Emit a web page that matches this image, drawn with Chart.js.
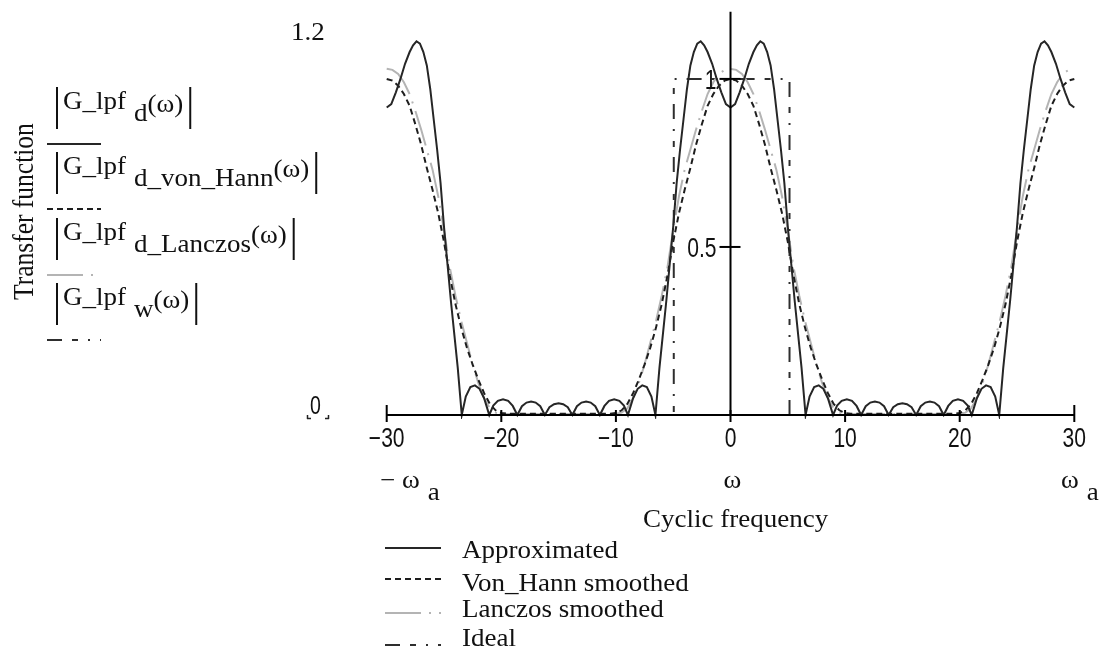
<!DOCTYPE html>
<html lang="en">
<head>
<meta charset="utf-8">
<title>Transfer function</title>
<script src="https://cdn.jsdelivr.net/npm/chart.js@4.4.1/dist/chart.umd.min.js"></script>
<style>
    html, body { margin: 0; padding: 0; background: #fff; }
    #wrap { width: 1099px; height: 660px; }
</style>
</head>
<body>
<div id="wrap"><canvas id="grafico" width="1099" height="660"></canvas></div>
<script>
// Eixo x: frequência cíclica, ticks e rótulos
const xTicks = [-30, -20, -10, 0, 10, 20, 30];
const yTicks = [0.5, 1];
const xLimits = [-30, 30];
const yLimits = [0, 1.2];

// Nomes das séries (legenda inferior) e índices dos rótulos do eixo y
const seriesNames = ['Approximated', 'Von_Hann smoothed', 'Lanczos smoothed', 'Ideal'];
const traceSubscripts = ['d', 'd_von_Hann', 'd_Lanczos', 'w'];

// |G_lpf_d(ω)| – aproximação
const approxOmega = [
    -30, -29.6, -29.2, -28.8, -28.4, -28.0, -27.7, -27.4, -27.1, -26.8,
    -26.5, -26.2, -25.9, -25.6, -25.3, -25.0, -24.7, -24.4, -24.1, -23.8,
    -23.45, -23.1, -22.7, -22.3, -21.9, -21.5, -21.05, -20.7, -20.3, -19.85,
    -19.4, -19.0, -18.6, -18.2, -17.8, -17.4, -17.0, -16.6, -16.2, -15.8,
    -15.4, -15.0, -14.6, -14.2, -13.8, -13.4, -13.0, -12.6, -12.2, -11.8,
    -11.4, -11.0, -10.6, -10.15, -9.7, -9.3, -8.95, -8.5, -8.1, -7.7,
    -7.3, -6.9, -6.55, -6.2, -5.9, -5.6, -5.3, -5.0, -4.7, -4.4,
    -4.1, -3.8, -3.5, -3.2, -2.9, -2.6, -2.3, -2.0, -1.6, -1.2,
    -0.8, -0.4, 0, 0.4, 0.8, 1.2, 1.6, 2.0, 2.3, 2.6,
    2.9, 3.2, 3.5, 3.8, 4.1, 4.4, 4.7, 5.0, 5.3, 5.6,
    5.9, 6.2, 6.55, 6.9, 7.3, 7.7, 8.1, 8.5, 8.95, 9.3,
    9.7, 10.15, 10.6, 11.0, 11.4, 11.8, 12.2, 12.6, 13.0, 13.4,
    13.8, 14.2, 14.6, 15.0, 15.4, 15.8, 16.2, 16.6, 17.0, 17.4,
    17.8, 18.2, 18.6, 19.0, 19.4, 19.85, 20.3, 20.7, 21.05, 21.5,
    21.9, 22.3, 22.7, 23.1, 23.45, 23.8, 24.1, 24.4, 24.7, 25.0,
    25.3, 25.6, 25.9, 26.2, 26.5, 26.8, 27.1, 27.4, 27.7, 28.0,
    28.4, 28.8, 29.2, 29.6, 30
];
const approxGain = [
    0.915, 0.925, 0.96, 1.0, 1.045, 1.08, 1.1, 1.112, 1.105, 1.08,
    1.04, 0.97, 0.88, 0.79, 0.69, 0.56, 0.45, 0.34, 0.24, 0.14,
    0, 0.055, 0.083, 0.088, 0.078, 0.05, 0, 0.028, 0.042, 0.047,
    0.042, 0.027, 0, 0.026, 0.037, 0.04, 0.037, 0.026, 0, 0.023,
    0.032, 0.035, 0.032, 0.023, 0, 0.026, 0.037, 0.04, 0.037, 0.026,
    0, 0.027, 0.042, 0.047, 0.042, 0.028, 0, 0.05, 0.078, 0.088,
    0.083, 0.055, 0, 0.14, 0.24, 0.34, 0.45, 0.56, 0.69, 0.79,
    0.88, 0.97, 1.04, 1.08, 1.105, 1.112, 1.1, 1.08, 1.045, 1.0,
    0.96, 0.925, 0.915, 0.925, 0.96, 1.0, 1.045, 1.08, 1.1, 1.112,
    1.105, 1.08, 1.04, 0.97, 0.88, 0.79, 0.69, 0.56, 0.45, 0.34,
    0.24, 0.14, 0, 0.055, 0.083, 0.088, 0.078, 0.05, 0, 0.028,
    0.042, 0.047, 0.042, 0.027, 0, 0.026, 0.037, 0.04, 0.037, 0.026,
    0, 0.023, 0.032, 0.035, 0.032, 0.023, 0, 0.026, 0.037, 0.04,
    0.037, 0.026, 0, 0.027, 0.042, 0.047, 0.042, 0.028, 0, 0.05,
    0.078, 0.088, 0.083, 0.055, 0, 0.14, 0.24, 0.34, 0.45, 0.56,
    0.69, 0.79, 0.88, 0.97, 1.04, 1.08, 1.105, 1.112, 1.1, 1.08,
    1.045, 1.0, 0.96, 0.925, 0.915
];

// Grade comum para as curvas suavizadas
const omegaGrid = [
    -30, -29.5, -29, -28.5, -28, -27.5, -27, -26.5, -26, -25.5,
    -25, -24.5, -24, -23.5, -23, -22.5, -22, -21.5, -21, -20.5,
    -20, -19.5, -19, -18.5, -18, -17.5, -17, -16.5, -16, -15.5,
    -15, -14.5, -14, -13.5, -13, -12.5, -12, -11.5, -11, -10.5,
    -10, -9.5, -9, -8.5, -8, -7.5, -7, -6.5, -6, -5.5,
    -5, -4.5, -4, -3.5, -3, -2.5, -2, -1.5, -1, -0.5,
    0, 0.5, 1, 1.5, 2, 2.5, 3, 3.5, 4, 4.5,
    5, 5.5, 6, 6.5, 7, 7.5, 8, 8.5, 9, 9.5,
    10, 10.5, 11, 11.5, 12, 12.5, 13, 13.5, 14, 14.5,
    15, 15.5, 16, 16.5, 17, 17.5, 18, 18.5, 19, 19.5,
    20, 20.5, 21, 21.5, 22, 22.5, 23, 23.5, 24, 24.5,
    25, 25.5, 26, 26.5, 27, 27.5, 28, 28.5, 29, 29.5,
    30
];

// |G_lpf_d_von_Hann(ω)|
const hannGain = [
    1.0, 0.995, 0.98, 0.955, 0.92, 0.865, 0.805, 0.735, 0.67, 0.6,
    0.515, 0.415, 0.33, 0.26, 0.2, 0.15, 0.105, 0.065, 0.033, 0.014,
    0.006, 0.004, 0.004, 0.004, 0.004, 0.004, 0.004, 0.004, 0.004, 0.004,
    0.004, 0.004, 0.004, 0.004, 0.004, 0.004, 0.004, 0.004, 0.004, 0.004,
    0.006, 0.014, 0.033, 0.065, 0.105, 0.15, 0.2, 0.26, 0.33, 0.415,
    0.515, 0.6, 0.67, 0.735, 0.805, 0.865, 0.92, 0.955, 0.98, 0.995,
    1.0, 0.995, 0.98, 0.955, 0.92, 0.865, 0.805, 0.735, 0.67, 0.6,
    0.515, 0.415, 0.33, 0.26, 0.2, 0.15, 0.105, 0.065, 0.033, 0.014,
    0.006, 0.004, 0.004, 0.004, 0.004, 0.004, 0.004, 0.004, 0.004, 0.004,
    0.004, 0.004, 0.004, 0.004, 0.004, 0.004, 0.004, 0.004, 0.004, 0.004,
    0.006, 0.014, 0.033, 0.065, 0.105, 0.15, 0.2, 0.26, 0.33, 0.415,
    0.515, 0.6, 0.67, 0.735, 0.805, 0.865, 0.92, 0.955, 0.98, 0.995,
    1.0
];

// |G_lpf_d_Lanczos(ω)|
const lanczosGain = [
    1.03, 1.027, 1.015, 0.99, 0.955, 0.905, 0.85, 0.79, 0.73, 0.65,
    0.55, 0.44, 0.355, 0.28, 0.215, 0.15, 0.095, 0.05, 0.02, 0.007,
    0.004, 0.003, 0.003, 0.003, 0.003, 0.003, 0.003, 0.003, 0.003, 0.003,
    0.003, 0.003, 0.003, 0.003, 0.003, 0.003, 0.003, 0.003, 0.003, 0.003,
    0.004, 0.007, 0.02, 0.05, 0.095, 0.15, 0.215, 0.28, 0.355, 0.44,
    0.55, 0.65, 0.73, 0.79, 0.85, 0.905, 0.955, 0.99, 1.015, 1.027,
    1.03, 1.027, 1.015, 0.99, 0.955, 0.905, 0.85, 0.79, 0.73, 0.65,
    0.55, 0.44, 0.355, 0.28, 0.215, 0.15, 0.095, 0.05, 0.02, 0.007,
    0.004, 0.003, 0.003, 0.003, 0.003, 0.003, 0.003, 0.003, 0.003, 0.003,
    0.003, 0.003, 0.003, 0.003, 0.003, 0.003, 0.003, 0.003, 0.003, 0.003,
    0.004, 0.007, 0.02, 0.05, 0.095, 0.15, 0.215, 0.28, 0.355, 0.44,
    0.55, 0.65, 0.73, 0.79, 0.85, 0.905, 0.955, 0.99, 1.015, 1.027,
    1.03
];

// |G_lpf_w(ω)| – filtro ideal
const idealOmega = [-30, -4.95, -4.95, 5.15, 5.15, 30];
const idealGain = [0, 0, 1, 1, 0, 0];

const SERIF = '"Liberation Serif", "Times New Roman", serif';
const SANS = '"Liberation Sans", Arial, sans-serif';
const SERIF_SIZE = 25;
const SERIF_SX = 1.08;
const SANS_SX = 0.78;

function pares(xs, ys) {
    return xs.map((x, i) => ({ x: x, y: ys[i] }));
}

// Texto com escala horizontal (a figura original é esticada na horizontal)
function texto(ctx, str, x, y, size, family, sx, align) {
    ctx.save();
    ctx.font = size + 'px ' + family;
    ctx.textAlign = 'left';
    ctx.textBaseline = 'alphabetic';
    const w = ctx.measureText(str).width * sx;
    let x0 = x;
    if (align === 'center') x0 = x - w / 2;
    if (align === 'right') x0 = x - w;
    ctx.translate(x0, y);
    ctx.scale(sx, 1);
    ctx.fillText(str, 0, 0);
    ctx.restore();
    return x0 + w;
}

function linha(ctx, x1, y1, x2, y2, cor, largura, dash) {
    ctx.save();
    ctx.strokeStyle = cor;
    ctx.lineWidth = largura;
    ctx.setLineDash(dash || []);
    ctx.beginPath();
    ctx.moveTo(x1, y1);
    ctx.lineTo(x2, y2);
    ctx.stroke();
    ctx.restore();
}

// Eixos cruzados, rótulos e legendas no estilo Mathcad
const mathcadFrame = {
    id: 'mathcadFrame',
    afterDatasetsDraw(chart) {
        const ctx = chart.ctx;
        const xs = chart.scales.x;
        const ys = chart.scales.y;
        const y0 = ys.getPixelForValue(0);
        const x0 = xs.getPixelForValue(0);
        const xl = xs.getPixelForValue(xLimits[0]);
        const xr = xs.getPixelForValue(xLimits[1]);
        const yt = ys.getPixelForValue(yLimits[1]);
        ctx.fillStyle = '#111';

        // eixo horizontal e vertical
        linha(ctx, xl, y0, xr, y0, '#000', 2);
        linha(ctx, x0, y0, x0, yt, '#000', 2);

        xTicks.forEach(v => {
            const px = xs.getPixelForValue(v);
            const ponta = (v === xLimits[0] || v === xLimits[1]);
            linha(ctx, px, y0 - (ponta ? 10 : 5), px, y0 + 7, '#000', 2);
            const lbl = v < 0 ? '\u2212' + Math.abs(v) : String(v);
            texto(ctx, lbl, px, y0 + 32, 27, SANS, SANS_SX, 'center');
        });

        yTicks.forEach(v => {
            const py = ys.getPixelForValue(v);
            linha(ctx, x0 - 11, py, x0 + 10, py, '#000', 2);
            texto(ctx, String(v), x0 - 14, py + 10, 27, SANS, SANS_SX, 'right');
        });

        // limites do eixo y
        texto(ctx, '1.2', 291, 40, SERIF_SIZE, SERIF, SERIF_SX, 'left');
        texto(ctx, '0', 310, 414, 25, SANS, SANS_SX, 'left');
        linha(ctx, 307.5, 415, 307.5, 419, '#222', 1.5);
        linha(ctx, 307, 418.5, 311, 418.5, '#222', 1.5);
        linha(ctx, 328.5, 415, 328.5, 419, '#222', 1.5);
        linha(ctx, 325, 418.5, 329, 418.5, '#222', 1.5);

        // título do eixo y (vertical)
        ctx.save();
        ctx.font = '25.5px ' + SERIF;
        ctx.translate(33, 300);
        ctx.scale(1.13, 1);
        ctx.rotate(-Math.PI / 2);
        ctx.fillText('Transfer function', 0, 0);
        ctx.restore();

        // expressões dos traços |G_lpf_x(ω)| com amostras de linha
        const topos = [87, 152, 218, 283];
        traceSubscripts.forEach((sub, i) => {
            const top = topos[i];
            const bottom = top + 42;
            const ds = chart.data.datasets[i];
            let x = texto(ctx, 'G_lpf', 63, top + 22, SERIF_SIZE, SERIF, SERIF_SX, 'left');
            x = texto(ctx, sub, x + 8, top + 34, SERIF_SIZE, SERIF, SERIF_SX, 'left');
            x = texto(ctx, '(\u03c9)', x, top + 25, SERIF_SIZE, SERIF, SERIF_SX, 'left');
            linha(ctx, 57, top, 57, bottom, '#111', 2);
            linha(ctx, x + 7, top, x + 7, bottom, '#111', 2);
            linha(ctx, 47, bottom + 15, 101, bottom + 15, ds.borderColor, 2, ds.borderDash);
        });

        // rótulos de limite do eixo x
        let xa = texto(ctx, '\u2212 \u03c9', 380, 488, SERIF_SIZE, SERIF, SERIF_SX, 'left');
        texto(ctx, 'a', xa + 8, 500, SERIF_SIZE, SERIF, SERIF_SX, 'left');
        texto(ctx, '\u03c9', x0 + 2, 488, SERIF_SIZE, SERIF, SERIF_SX, 'center');
        xa = texto(ctx, '\u03c9', 1061, 488, SERIF_SIZE, SERIF, SERIF_SX, 'left');
        texto(ctx, 'a', xa + 8, 500, SERIF_SIZE, SERIF, SERIF_SX, 'left');
        texto(ctx, 'Cyclic frequency', 643, 527, SERIF_SIZE, SERIF, SERIF_SX, 'left');

        // legenda inferior
        const linhasY = [548, 579, 613, 645];
        const textosY = [558, 591, 617, 646];
        chart.data.datasets.forEach((ds, i) => {
            linha(ctx, 385, linhasY[i], 441, linhasY[i], ds.borderColor, 2, ds.borderDash);
            texto(ctx, ds.label, 462, textosY[i], SERIF_SIZE, SERIF, SERIF_SX, 'left');
        });
    }
};

const ctxGrafico = document.getElementById('grafico').getContext('2d');
const grafico = new Chart(ctxGrafico, {
    type: 'line',
    data: {
        datasets: [
            {
                label: seriesNames[0],
                data: pares(approxOmega, approxGain),
                borderColor: '#262626',
                borderWidth: 2,
                borderDash: []
            },
            {
                label: seriesNames[1],
                data: pares(omegaGrid, hannGain),
                borderColor: '#1e1e1e',
                borderWidth: 2,
                borderDash: [6, 4]
            },
            {
                label: seriesNames[2],
                data: pares(omegaGrid, lanczosGain),
                borderColor: '#b4b4b4',
                borderWidth: 2,
                borderDash: [36, 8, 2, 8]
            },
            {
                label: seriesNames[3],
                data: pares(idealOmega, idealGain),
                borderColor: '#2e2e2e',
                borderWidth: 2,
                borderDash: [15, 10, 6, 10, 2, 10]
            }
        ]
    },
    options: {
        responsive: false,
        maintainAspectRatio: false,
        animation: false,
        layout: {
            padding: { left: 386.7, right: 24.7, top: 11.7, bottom: 245 }
        },
        elements: {
            point: { radius: 0, hoverRadius: 0 },
            line: { tension: 0, fill: false }
        },
        datasets: { line: { clip: 4 } },
        plugins: {
            legend: { display: false },
            tooltip: { enabled: false }
        },
        scales: {
            x: { type: 'linear', min: xLimits[0], max: xLimits[1], display: false },
            y: { type: 'linear', min: yLimits[0], max: yLimits[1], display: false }
        }
    },
    plugins: [mathcadFrame]
});
</script>
</body>
</html>
